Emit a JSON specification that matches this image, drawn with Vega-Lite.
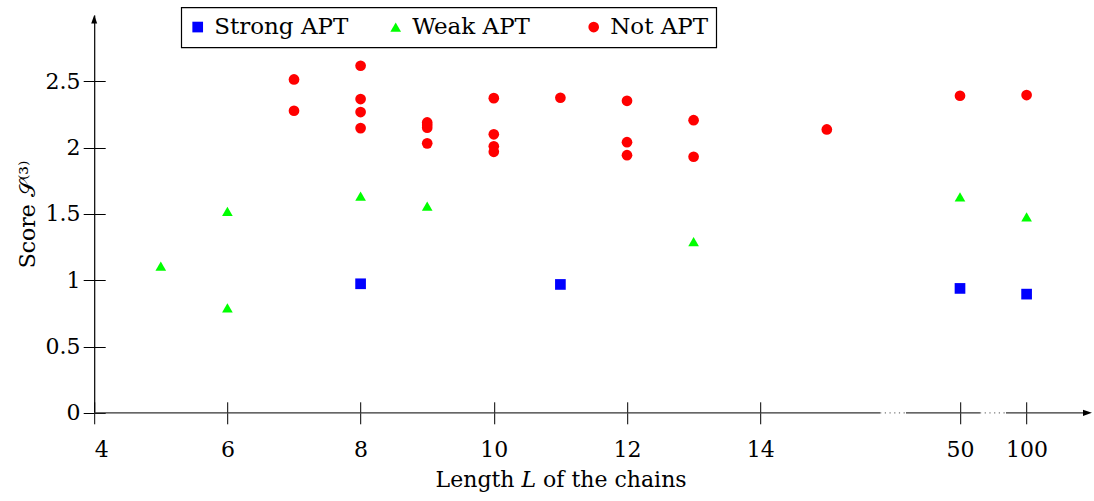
{
  "$schema": "https://vega.github.io/schema/vega-lite/v6.json",
  "autosize": "none",
  "width": 999,
  "height": 397.8,
  "padding": {"left": 94.2, "top": 15, "right": 0.8, "bottom": 88.2},
  "background": "white",
  "config": {
    "view": {"stroke": null},
    "font": "DejaVu Serif",
    "legend": {"strokeWidth": 1.2, "labelFont": "DejaVu Serif", "labelFontSize": 23},
    "axis": {"grid": false, "labelFont": "DejaVu Serif", "titleFont": "DejaVu Serif", "labelColor": "black", "titleColor": "black", "tickColor": "black", "domainColor": "black", "titleFontWeight": "normal"}
  },
  "datasets": {
    "points": [
      {"L": 8, "S": 0.973, "cls": "Strong APT"},
      {"L": 11, "S": 0.968, "cls": "Strong APT"},
      {"L": 50, "S": 0.938, "cls": "Strong APT"},
      {"L": 100, "S": 0.895, "cls": "Strong APT"},
      {"L": 5, "S": 1.106, "cls": "Weak APT"},
      {"L": 6, "S": 1.519, "cls": "Weak APT"},
      {"L": 6, "S": 0.792, "cls": "Weak APT"},
      {"L": 8, "S": 1.634, "cls": "Weak APT"},
      {"L": 9, "S": 1.559, "cls": "Weak APT"},
      {"L": 13, "S": 1.29, "cls": "Weak APT"},
      {"L": 50, "S": 1.629, "cls": "Weak APT"},
      {"L": 100, "S": 1.478, "cls": "Weak APT"},
      {"L": 7, "S": 2.514, "cls": "Not APT"},
      {"L": 7, "S": 2.278, "cls": "Not APT"},
      {"L": 8, "S": 2.617, "cls": "Not APT"},
      {"L": 8, "S": 2.366, "cls": "Not APT"},
      {"L": 8, "S": 2.268, "cls": "Not APT"},
      {"L": 8, "S": 2.147, "cls": "Not APT"},
      {"L": 9, "S": 2.19, "cls": "Not APT"},
      {"L": 9, "S": 2.17, "cls": "Not APT"},
      {"L": 9, "S": 2.15, "cls": "Not APT"},
      {"L": 9, "S": 2.032, "cls": "Not APT"},
      {"L": 10, "S": 2.373, "cls": "Not APT"},
      {"L": 10, "S": 2.1, "cls": "Not APT"},
      {"L": 10, "S": 2.01, "cls": "Not APT"},
      {"L": 10, "S": 1.968, "cls": "Not APT"},
      {"L": 11, "S": 2.376, "cls": "Not APT"},
      {"L": 12, "S": 2.353, "cls": "Not APT"},
      {"L": 12, "S": 2.041, "cls": "Not APT"},
      {"L": 12, "S": 1.943, "cls": "Not APT"},
      {"L": 13, "S": 2.207, "cls": "Not APT"},
      {"L": 13, "S": 1.931, "cls": "Not APT"},
      {"L": 15, "S": 2.137, "cls": "Not APT"},
      {"L": 50, "S": 2.391, "cls": "Not APT"},
      {"L": 100, "S": 2.396, "cls": "Not APT"}
    ],
    "solid": [
      {"a": 4, "b": 29, "y": 0},
      {"a": 35.8, "b": 65, "y": 0},
      {"a": 84.5, "b": 145, "y": 0}
    ],
    "dotted": [
      {"a": 29, "b": 35.8, "y": 0},
      {"a": 65, "b": 84.5, "y": 0}
    ]
  },
  "resolve": {"axis": {"x": "independent", "y": "independent"}},
  "layer": [
    {
      "data": {"name": "solid"},
      "mark": {"type": "rule", "color": "#333333", "strokeWidth": 1.3},
      "encoding": {
        "x": {"field": "a", "type": "quantitative",
          "scale": {"domain": [4, 15, 50, 100, 150], "range": [0, 732.6, 865.8, 932.4, 999], "nice": false, "zero": false},
          "axis": {"orient": "top", "offset": -397.8, "domain": false, "labels": false, "ticks": true, "tickSize": 11, "tickWidth": 1, "title": null, "values": [4, 6, 8, 10, 12, 14, 50, 100]}},
        "x2": {"field": "b"},
        "y": {"field": "y", "type": "quantitative",
          "scale": {"domain": [0, 3], "nice": false, "zero": false},
          "axis": {"orient": "right", "offset": -999, "domain": false, "labels": false, "ticks": true, "tickSize": 11, "tickWidth": 1, "title": null, "values": [0, 0.5, 1, 1.5, 2, 2.5]}}
      }
    },
    {
      "data": {"name": "dotted"},
      "mark": {"type": "rule", "color": "#777777", "strokeWidth": 1.2, "strokeDash": [1.2, 3.5]},
      "encoding": {
        "x": {"field": "a", "type": "quantitative", "axis": null},
        "x2": {"field": "b"},
        "y": {"field": "y", "type": "quantitative", "axis": null}
      }
    },
    {
      "data": {"values": [{"L": 145.7, "S": 0}]},
      "mark": {"type": "point", "shape": "M1,0L-1,-0.7L-1,0.7Z", "filled": true, "color": "black", "opacity": 1, "size": 81, "strokeWidth": 0},
      "encoding": {
        "x": {"field": "L", "type": "quantitative", "axis": null},
        "y": {"field": "S", "type": "quantitative", "axis": null}
      }
    },
    {
      "data": {"values": [{"L": 4, "S": 2.968}]},
      "mark": {"type": "point", "shape": "M0,-1L0.7,1L-0.7,1Z", "filled": true, "color": "black", "opacity": 1, "size": 72, "strokeWidth": 0},
      "encoding": {
        "x": {"field": "L", "type": "quantitative", "axis": null},
        "y": {"field": "S", "type": "quantitative", "axis": null}
      }
    },
    {
      "data": {"name": "points"},
      "mark": {"type": "point", "filled": true, "opacity": 1, "strokeWidth": 0},
      "encoding": {
        "x": {"field": "L", "type": "quantitative",
          "axis": {"orient": "bottom", "domain": false, "ticks": true, "tickSize": 11, "tickWidth": 1,
            "values": [4, 6, 8, 10, 12, 14, 50, 100], "format": "d",
            "labelFontSize": 22, "labelBaseline": "alphabetic", "labelPadding": 32.2,
            "title": "Length 𝐿 of the chains", "titleFontSize": 22, "titleX": 466.4, "titleY": 73.2,
            "titleBaseline": "alphabetic", "titleAlign": "center", "titleAngle": 0}},
        "y": {"field": "S", "type": "quantitative",
          "axis": {"orient": "left", "domain": true, "domainWidth": 1.2, "ticks": true, "tickSize": 11, "tickWidth": 1,
            "values": [0, 0.5, 1, 1.5, 2, 2.5], "format": "~g",
            "labelExpr": "datum.value == 0 ? '0\u00a0\u00a0' : datum.label",
            "labelFontSize": 22, "labelBaseline": "middle", "labelPadding": 3.2,
            "title": "Score 𝒮⁽³⁾", "titleFontSize": 22, "titleX": -67, "titleY": 198.9,
            "titleBaseline": "middle", "titleAlign": "center", "titleAngle": -90}},
        "color": {"field": "cls", "type": "nominal", "title": null,
          "scale": {"domain": ["Strong APT", "Weak APT", "Not APT"], "range": ["#0000ff", "#00ff00", "#ff0000"]},
          "legend": {"orient": "none", "legendX": 87, "legendY": -7.7, "direction": "horizontal", "columns": 3,
            "gridAlign": "all", "columnPadding": 38, "padding": 8, "strokeColor": "black", "fillColor": "white",
            "labelFont": "DejaVu Serif", "labelFontSize": 23, "labelColor": "black", "labelOffset": 5, "symbolOffset": -3, "symbolStrokeWidth": 0}},
        "shape": {"field": "cls", "type": "nominal", "title": null,
          "scale": {"domain": ["Strong APT", "Weak APT", "Not APT"], "range": ["square", "triangle-up", "circle"]}},
        "size": {"field": "cls", "type": "nominal", "title": null,
          "scale": {"domain": ["Strong APT", "Weak APT", "Not APT"], "range": [114, 114, 64]}}
      }
    }
  ]
}
